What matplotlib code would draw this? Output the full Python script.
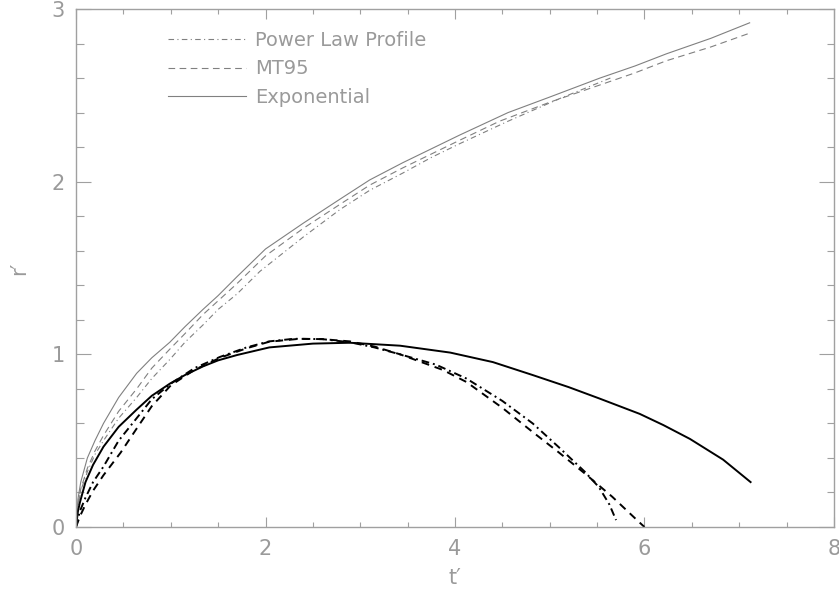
import numpy as np
import matplotlib
matplotlib.use("Agg")
import matplotlib.pyplot as plt
from matplotlib.ticker import MultipleLocator

# upper (gray) curves
t_exp_up = [0, 0.02, 0.05, 0.12, 0.2, 0.29, 0.45, 0.64, 0.8, 0.99, 1.15, 1.34, 1.5, 1.70, 2.0, 2.4, 2.79, 3.1, 3.45, 3.75, 4.05, 4.56, 5.0, 5.53, 5.9, 6.23, 6.7, 7.11]
r_exp_up = [0, 0.16, 0.26, 0.40, 0.50, 0.60, 0.75, 0.89, 0.98, 1.07, 1.16, 1.26, 1.34, 1.45, 1.61, 1.76, 1.90, 2.01, 2.11, 2.19, 2.27, 2.40, 2.49, 2.60, 2.67, 2.74, 2.83, 2.92]

t_mt_up = [0, 0.02, 0.05, 0.12, 0.2, 0.29, 0.45, 0.64, 0.8, 0.99, 1.15, 1.34, 1.5, 1.70, 2.0, 2.4, 2.79, 3.1, 3.45, 3.75, 4.05, 4.47, 5.0, 5.53, 5.9, 6.23, 6.7, 7.11]
r_mt_up = [0, 0.13, 0.22, 0.34, 0.44, 0.53, 0.67, 0.80, 0.92, 1.03, 1.12, 1.23, 1.31, 1.41, 1.57, 1.73, 1.87, 1.98, 2.08, 2.16, 2.24, 2.35, 2.46, 2.56, 2.63, 2.70, 2.78, 2.86]

t_pl_up = [0, 0.02, 0.05, 0.12, 0.2, 0.29, 0.45, 0.64, 0.8, 0.99, 1.15, 1.34, 1.5, 1.70, 1.94, 2.4, 2.79, 3.1, 3.45, 3.75, 4.05, 4.56, 5.1, 5.64]
r_pl_up = [0, 0.12, 0.21, 0.32, 0.42, 0.50, 0.63, 0.75, 0.86, 0.97, 1.07, 1.17, 1.26, 1.35, 1.48, 1.68, 1.84, 1.95, 2.05, 2.14, 2.22, 2.35, 2.48, 2.60]

# lower (black) curves
t_exp_lo = [0, 0.02, 0.04, 0.1, 0.18, 0.29, 0.45, 0.64, 0.8, 0.99, 1.15, 1.34, 1.5, 1.70, 2.04, 2.5, 2.89, 3.42, 3.95, 4.4, 4.82, 5.2, 5.52, 5.95, 6.2, 6.48, 6.83, 7.12]
r_exp_lo = [0, 0.09, 0.14, 0.26, 0.36, 0.465, 0.58, 0.68, 0.76, 0.83, 0.88, 0.93, 0.965, 0.996, 1.04, 1.062, 1.067, 1.05, 1.01, 0.955, 0.88, 0.81, 0.745, 0.655, 0.59, 0.51, 0.39, 0.26]

t_mt_lo = [0, 0.04, 0.1, 0.18, 0.29, 0.47, 0.64, 0.8, 1.0, 1.25, 1.52, 1.8, 2.04, 2.36, 2.6, 2.89, 3.15, 3.42, 3.87, 4.12, 4.5, 4.82, 5.1, 5.37, 5.66, 5.94, 6.0]
r_mt_lo = [0, 0.06, 0.13, 0.21, 0.30, 0.43, 0.57, 0.70, 0.82, 0.91, 0.98, 1.035, 1.073, 1.09, 1.088, 1.075, 1.045, 1.0, 0.91, 0.84, 0.69, 0.55, 0.43, 0.31, 0.175, 0.03, 0.0]

t_pl_lo = [0, 0.04, 0.1, 0.18, 0.29, 0.45, 0.64, 0.8, 1.0, 1.25, 1.52, 1.8, 2.04, 2.3, 2.6, 2.89, 3.15, 3.42, 3.8, 4.12, 4.5, 4.82, 5.1, 5.37, 5.52, 5.63, 5.70]
r_pl_lo = [0, 0.09, 0.17, 0.26, 0.35, 0.50, 0.63, 0.74, 0.83, 0.92, 0.985, 1.04, 1.075, 1.09, 1.088, 1.07, 1.04, 1.0, 0.94, 0.86, 0.73, 0.60, 0.46, 0.32, 0.23, 0.13, 0.04]

labels = ["Power Law Profile", "MT95", "Exponential"]

GRAY_AX = "#a0a0a0"
GRAY_TXT = "#9a9a9a"
GRAY_LN = "#808080"
DASHDOT = (0, (5, 3, 1, 3))
DASHED = (0, (6, 4))

plt.rcParams["font.family"] = ["DejaVu Sans"]

fig = plt.figure(figsize=(8.39, 5.95), dpi=100)
ax = fig.add_axes([0.0906, 0.1143, 0.9034, 0.8706])

h_pl, = ax.plot(t_pl_up, r_pl_up, color=GRAY_LN, lw=0.8, linestyle=DASHDOT)
h_mt, = ax.plot(t_mt_up, r_mt_up, color=GRAY_LN, lw=0.8, linestyle=DASHED)
h_ex, = ax.plot(t_exp_up, r_exp_up, color=GRAY_LN, lw=0.8, linestyle="-")

ax.plot(t_pl_lo, r_pl_lo, color="black", lw=1.4, linestyle=(0, (4, 2, 1, 2)))
ax.plot(t_mt_lo, r_mt_lo, color="black", lw=1.4, linestyle=(0, (4, 3)))
ax.plot(t_exp_lo, r_exp_lo, color="black", lw=1.4, linestyle="-")

ax.set_xlim(0, 8)
ax.set_ylim(0, 3)
ax.xaxis.set_major_locator(MultipleLocator(2))
ax.xaxis.set_minor_locator(MultipleLocator(0.5))
ax.yaxis.set_major_locator(MultipleLocator(1))
ax.yaxis.set_minor_locator(MultipleLocator(0.2))

for s in ax.spines.values():
    s.set_color(GRAY_AX)
    s.set_linewidth(1.0)

ax.tick_params(axis="both", which="both", direction="in", top=True, right=True,
               color=GRAY_AX, labelcolor=GRAY_TXT, labelsize=15, width=0.8)
ax.tick_params(axis="x", which="major", length=7.2, pad=9)
ax.tick_params(axis="x", which="minor", length=3.6)
ax.tick_params(axis="y", which="major", length=10.8, pad=8)
ax.tick_params(axis="y", which="minor", length=5.4)

ax.set_xlabel("t\u2032", fontsize=15, color=GRAY_TXT, labelpad=6)
ax.set_ylabel("r\u2032", fontsize=15, color=GRAY_TXT, labelpad=16)

leg = ax.legend([h_pl, h_mt, h_ex], labels, loc="upper left",
                bbox_to_anchor=(0.121, 0.958), frameon=False, fontsize=14,
                borderpad=0, borderaxespad=0,
                handlelength=4.0, handletextpad=0.5, labelspacing=0.5)
for txt in leg.get_texts():
    txt.set_color(GRAY_TXT)

fig.savefig("out.png", dpi=100)
